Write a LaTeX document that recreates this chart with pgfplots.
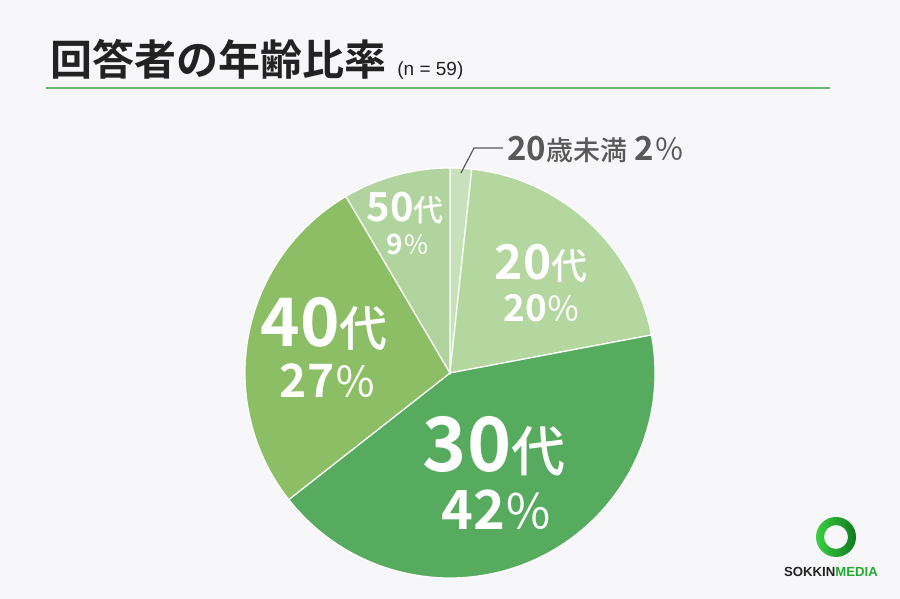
\documentclass[border=0pt]{standalone}
\usepackage{pgfplots}
\pgfplotsset{compat=1.18}
\usepackage{pgfplotstable}
\usepackage{fontspec}
\setmainfont{Noto Sans CJK JP}[BoldFont={Noto Sans CJK JP Bold}]
\newfontfamily\medfont{Noto Sans CJK JP Medium}
\newfontfamily\regfont{Noto Sans CJK JP}
\newfontfamily\arialfont{Liberation Sans}
\definecolor{bg}{HTML}{F7F7F9}
\definecolor{cA}{HTML}{C7E1BA}
\definecolor{cB}{HTML}{B4D79F}
\definecolor{cC}{HTML}{57AB5F}
\definecolor{cD}{HTML}{8CBF65}
\definecolor{cE}{HTML}{B1D49E}
\definecolor{rule}{HTML}{6BB36F}
\definecolor{txt}{HTML}{222222}
\definecolor{gtxt}{HTML}{595959}
\definecolor{logo}{HTML}{22AA33}
\definecolor{logoD}{HTML}{0E7A1E}
\definecolor{logoL}{HTML}{3CD043}
\pgfplotstableread{
label count col
under20 1 cA
20s 12 cB
30s 25 cC
40s 16 cD
50s 5 cE
}\piedata
\newcommand{\fs}[1]{\fontsize{#1}{#1}\selectfont}
\newcommand{\pc}[1]{{\regfont\mdseries\fs{#1}％}}
\newcommand{\dai}[1]{{\medfont\mdseries\fs{#1}代}}
\begin{document}
\pgfplotstablegetrowsof{\piedata}%
\pgfmathtruncatemacro\nrows{\pgfplotsretval-1}%
\gdef\cum{0}%
\foreach \i in {0,...,\nrows}{%
  \pgfplotstablegetelem{\i}{count}\of\piedata \let\cnt\pgfplotsretval
  \pgfplotstablegetelem{\i}{col}\of\piedata \let\col\pgfplotsretval
  \pgfmathsetmacro\a{90-(360/59)*\cum}%
  \pgfmathsetmacro\b{90-(360/59)*(\cum+\cnt)}%
  \expandafter\xdef\csname sa\i\endcsname{\a}%
  \expandafter\xdef\csname ea\i\endcsname{\b}%
  \expandafter\xdef\csname co\i\endcsname{\col}%
  \pgfmathtruncatemacro\newcum{\cum+\cnt}%
  \xdef\cum{\newcum}%
}%
\begin{tikzpicture}
\begin{axis}[
  scale only axis, width=450pt, height=299.5pt,
  xmin=0, xmax=900, ymin=0, ymax=599,
  hide axis, clip=false]
\fill[bg] (axis cs:0,0) rectangle (axis cs:900,599);
% title
\node[anchor=base west, inner sep=0, text=txt] at (axis cs:50,523) {\fs{21}\bfseries 回答者の年齢比率};
\node[anchor=base west, inner sep=0, text=txt] at (axis cs:397,523) {\arialfont\fs{9.5}(n = 59)};
\draw[rule, line width=1pt] (axis cs:46,511) -- (axis cs:830,511);
% pie
\pgfplotsinvokeforeach{0,...,4}{%
  \edef\doit{\noexpand\fill[\csname co#1\endcsname, draw=white, line width=0.6pt] (axis cs:450,226) -- ++(\csname sa#1\endcsname:102.5pt) arc[start angle=\csname sa#1\endcsname, end angle=\csname ea#1\endcsname, radius=102.5pt] -- cycle;}%
  \doit
}
% labels
\node[anchor=base, inner sep=0, text=white] at (axis cs:541,319) {\bfseries\fs{24}20\dai{18}};
\node[anchor=base, inner sep=0, text=white] at (axis cs:542,277) {\bfseries\fs{18.5}20\pc{17}};
\node[anchor=base, inner sep=0, text=white] at (axis cs:494,127) {\bfseries\fs{37.5}30\dai{27}};
\node[anchor=base, inner sep=0, text=white] at (axis cs:497,69) {\bfseries\fs{27}42\pc{24}};
\node[anchor=base, inner sep=0, text=white] at (axis cs:324,252) {\bfseries\fs{33.5}40\dai{24}};
\node[anchor=base, inner sep=0, text=white] at (axis cs:328,201) {\bfseries\fs{23}27\pc{21}};
\node[anchor=base, inner sep=0, text=white] at (axis cs:405,377) {\bfseries\fs{20}50\dai{15}};
\node[anchor=base, inner sep=0, text=white] at (axis cs:408,344) {\bfseries\fs{14}9\pc{13}};
% callout
\draw[gtxt, line width=0.6pt] (axis cs:461,426) -- (axis cs:474,451) -- (axis cs:503,451);
\node[anchor=base west, inner sep=0, text=gtxt] at (axis cs:507,438) {\bfseries\fs{16.5}20{\medfont\mdseries\fs{13.5}歳未満} \fs{16.5}2\pc{15}};
% logo
\shade[even odd rule, left color=logoL, right color=logoD] (axis cs:836,62) circle[radius=10pt] (axis cs:836,62) circle[radius=6pt];
\node[anchor=base, inner sep=0] at (axis cs:831,22) {\arialfont\bfseries\fs{6.6}\textcolor{txt}{SOKKIN}\textcolor{logo}{MEDIA}};
\end{axis}
\end{tikzpicture}
\end{document}
